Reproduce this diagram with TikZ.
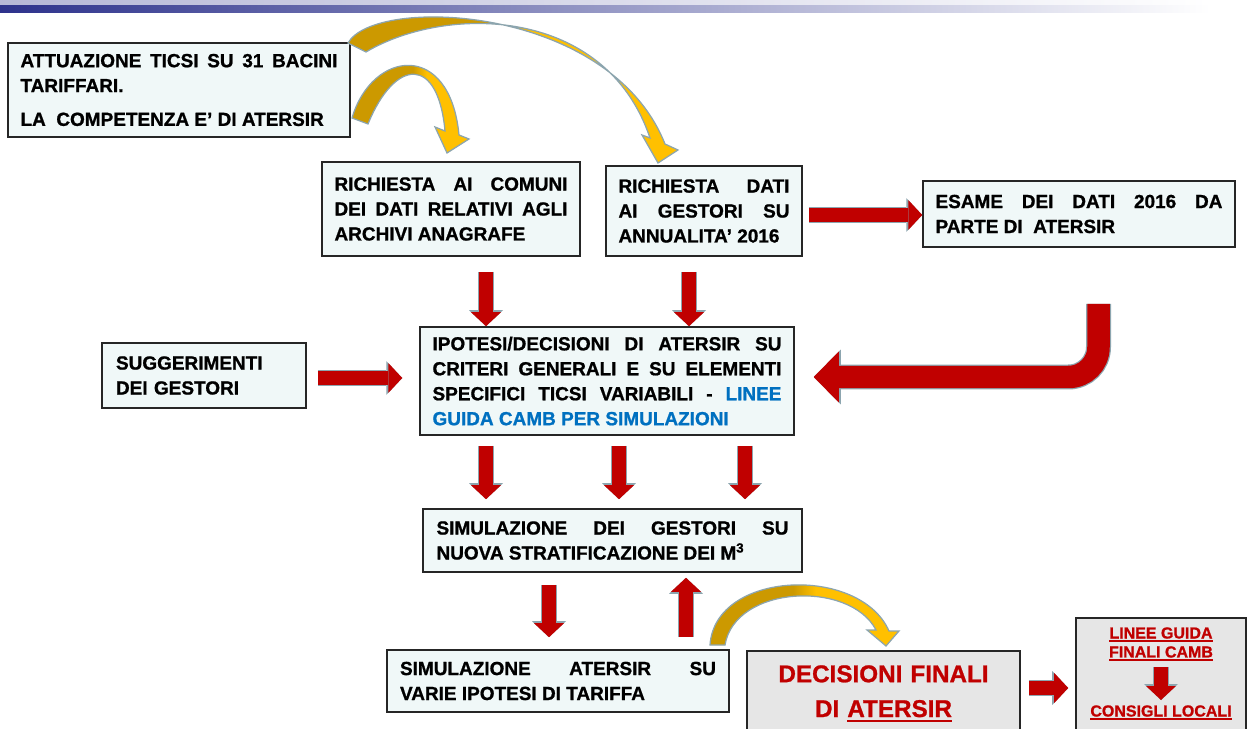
\documentclass[tikz,border=0pt]{standalone}
\usepackage{fontspec}
\setmainfont{Liberation Sans}[BoldFeatures={FakeBold=1}]
\usetikzlibrary{arrows.meta,positioning}
\tikzset{>=latex}

\definecolor{boxfill}{RGB}{240,248,248}
\definecolor{finalfill}{RGB}{230,230,230}
\definecolor{finalred}{RGB}{192,0,0}
\definecolor{textblue}{RGB}{0,112,192}
\definecolor{arrowred}{RGB}{192,0,0}
\definecolor{arrowedge}{RGB}{140,165,175}
\definecolor{golddark}{RGB}{204,153,0}
\definecolor{goldlight}{RGB}{255,192,0}
\definecolor{barblue}{RGB}{45,50,140}

\pgfdeclarehorizontalshading{ribbonA}{100bp}{color(0bp)=(golddark); color(47bp)=(golddark); color(53bp)=(goldlight); color(100bp)=(goldlight)}
\pgfdeclarehorizontalshading{ribbonB}{100bp}{color(0bp)=(golddark); color(51bp)=(golddark); color(57bp)=(goldlight); color(100bp)=(goldlight)}

\newcommand{\thickul}[1]{\leavevmode\setbox0=\hbox{#1}\rlap{\rule[-0.2em]{\wd0}{0.09em}}\box0}

\hyphenpenalty=10000
\uchyph=0

\begin{document}
\begin{tikzpicture}[x=0.02cm, y=-0.02cm,
  infobox/.style={draw=black!85, line width=0.9pt, fill=boxfill, inner sep=0pt, align=justify,
    font=\fontsize{10.8}{14.2}\selectfont\bfseries},
  finalbox/.style={draw=black!85, line width=0.9pt, fill=finalfill, inner sep=0pt},
  inlabel/.style={text=finalred, inner sep=0pt, align=center, font=\fontsize{9.1}{10.8}\selectfont\bfseries},
  redarrow/.style={draw=arrowred, line width=0.28cm, -{Triangle[width=0.6cm, length=0.28cm, line width=0pt]},
    preaction={draw=arrowedge, line width=0.33cm, -{Triangle[width=0.68cm, length=0.32cm, line width=0pt]}}},
  bigarrow/.style={draw=arrowred, line width=0.45cm, -{Triangle[width=1.02cm, length=0.5cm, line width=0pt]},
    preaction={draw=arrowedge, line width=0.5cm, -{Triangle[width=1.1cm, length=0.54cm, line width=0pt]}}},
  goldarrow/.style={draw=arrowedge, line width=0.7pt, shade, shading=#1}]

  % page and top band
  \path[use as bounding box, fill=white] (0,0) rectangle (1248,729);
  \shade[left color=barblue!35, right color=white] (0,0) rectangle (1210,6);
  \shade[left color=barblue, middle color=barblue!45, right color=white] (0,6) rectangle (1210,13);

  % boxes
  \node[infobox, minimum width=6.84cm, minimum height=1.88cm, text width=6.34cm] (att) at (179,90)
    {ATTUAZIONE TICSI SU 31 BACINI\linebreak TARIFFARI.\\[5pt]LA\ \ COMPETENZA E’ DI ATERSIR};
  \node[infobox, minimum width=5.16cm, minimum height=1.88cm, text width=4.66cm] (com) at (451,209)
    {RICHIESTA AI COMUNI\linebreak DEI DATI RELATIVI AGLI\linebreak ARCHIVI ANAGRAFE};
  \node[infobox, minimum width=3.92cm, minimum height=1.8cm, text width=3.42cm] (ges) at (704,211)
    {RICHIESTA DATI\linebreak AI GESTORI SU\linebreak ANNUALITA’ 2016};
  \node[infobox, minimum width=6.24cm, minimum height=1.32cm, text width=5.74cm] (esa) at (1079,214)
    {ESAME DEI DATI 2016 DA\linebreak PARTE DI\ \ ATERSIR};
  \node[infobox, align=left, minimum width=4.08cm, minimum height=1.3cm, text width=3.52cm] (sug) at (204,375.5)
    {SUGGERIMENTI\\DEI GESTORI};
  \node[infobox, minimum width=7.48cm, minimum height=2.16cm, text width=6.98cm] (ipo) at (607,381)
    {IPOTESI/DECISIONI DI ATERSIR SU\linebreak CRITERI GENERALI E SU ELEMENTI\linebreak SPECIFICI TICSI VARIABILI - \textcolor{textblue}{LINEE\linebreak GUIDA CAMB PER SIMULAZIONI}};
  \node[infobox, minimum width=7.58cm, minimum height=1.26cm, text width=7.04cm] (simg) at (612.5,540.5)
    {SIMULAZIONE DEI GESTORI SU\linebreak NUOVA STRATIFICAZIONE DEI M\textsuperscript{3}};
  \node[infobox, minimum width=6.84cm, minimum height=1.24cm, text width=6.32cm] (sima) at (558,681)
    {SIMULAZIONE ATERSIR SU\linebreak VARIE IPOTESI DI TARIFFA};
  \node[finalbox, anchor=north, minimum width=5.46cm, text width=5.2cm, inner ysep=0.29cm, align=center,
    text=finalred, font=\fontsize{13.8}{19.8}\selectfont\bfseries] (fin) at (883.5,650)
    {DECISIONI FINALI\\DI \thickul{ATERSIR}};
  \node[finalbox, anchor=north, minimum width=3.4cm, minimum height=2.8cm] (lin) at (1161,617) {};
  \node[inlabel, anchor=north] (lg) at (1161,627) {\thickul{LINEE GUIDA}\\\thickul{FINALI CAMB}};
  \node[inlabel, anchor=north] (cl) at (1161,705) {\thickul{CONSIGLI LOCALI}};

  % lanes of the block arrows
  \coordinate (lane1) at (486,0);
  \coordinate (lane2) at (689,0);
  \coordinate (lane4) at (619,0);
  \coordinate (lane5) at (745,0);
  \coordinate (lane6) at (549,0);
  \coordinate (lane7) at (686,0);
  \coordinate (lane8) at (1098.5,0);
  \coordinate (row1) at (0,215);
  \coordinate (row2) at (0,378);
  \coordinate (row3) at (0,688);
  \coordinate (row4) at (0,377);

  % red block arrows
  \draw[redarrow, shorten <=0.3cm] (com.south -| lane1) -- (ipo.north -| lane1);
  \draw[redarrow, shorten <=0.3cm] (ges.south -| lane2) -- (ipo.north -| lane2);
  \draw[redarrow, shorten <=0.12cm] (ges.east |- row1) -- (esa.west |- row1);
  \draw[redarrow, shorten <=0.22cm, shorten >=0.34cm] (sug.east |- row2) -- (ipo.west |- row2);
  \foreach \l in {lane1,lane4,lane5}
    \draw[redarrow, shorten <=0.2cm, shorten >=0.18cm] (ipo.south -| \l) -- (simg.north -| \l);
  \draw[redarrow, shorten <=0.24cm, shorten >=0.24cm] (simg.south -| lane6) -- (sima.north -| lane6);
  \draw[redarrow, shorten <=0.24cm, shorten >=0.1cm] (sima.north -| lane7) -- (simg.south -| lane7);
  \draw[redarrow, shorten <=0.16cm, shorten >=0.14cm] (fin.east |- row3) -- (lin.west |- row3);
  \draw[redarrow, shorten <=0.12cm, shorten >=0.1cm] (lg.south) -- (cl.north);
  \draw[bigarrow, rounded corners=0.6cm, shorten <=1.12cm, shorten >=0.38cm]
    (esa.south -| lane8) -- (lane8 |- row4) -- (ipo.east |- row4);

  % curved yellow arrows
  \draw[goldarrow=ribbonA] (348,43) .. controls (375,-5) and (610,5) .. (665,144) -- (678,150) -- (658,163)
    -- (642,135) -- (650,138) .. controls (605,5) and (445,5) .. (366,52) -- cycle;
  \draw[goldarrow=ribbonB] (352,118) .. controls (372,50) and (450,40) .. (459,135) -- (469,139) -- (447,153)
    -- (435,127) -- (445,131) .. controls (438,55) and (395,58) .. (368,124) -- cycle;
  \draw[goldarrow=ribbonA] (710,645) .. controls (715,570) and (860,565) .. (889,631) -- (899,631) -- (886,646)
    -- (867,630) -- (876,630) .. controls (850,580) and (735,585) .. (725,645) -- cycle;
\end{tikzpicture}
\end{document}
